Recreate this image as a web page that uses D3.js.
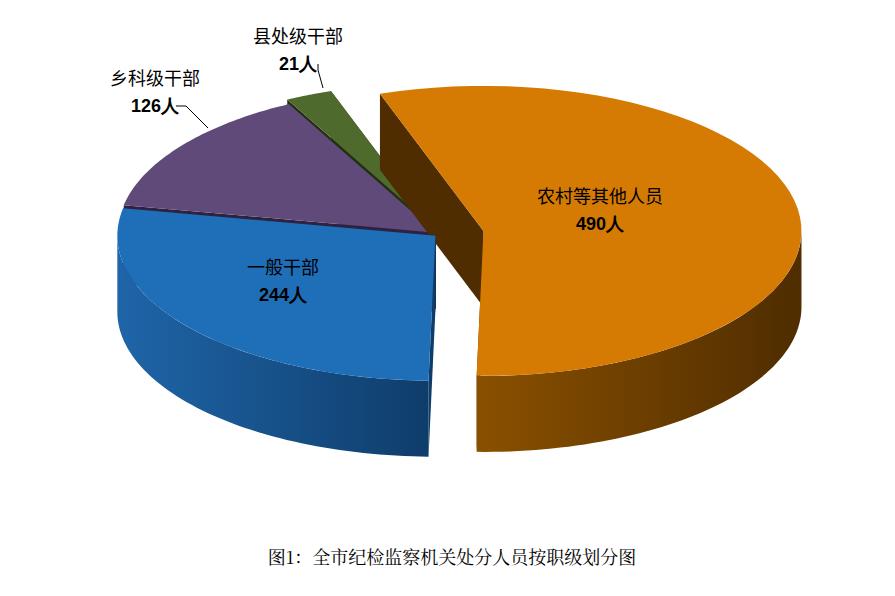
<!DOCTYPE html>
<html><head><meta charset="utf-8">
<script src="https://cdn.jsdelivr.net/npm/d3@7"></script>
<style>body{margin:0;background:#fff}</style>
</head><body>
<svg width="895" height="596"></svg>
<script>
const categories = ['农村等其他人员', '一般干部', '乡科级干部', '县处级干部'];
const values = [490, 244, 126, 21];
const valueLabels = ['490人', '244人', '126人', '21人'];
const title = '图1：全市纪检监察机关处分人员按职级划分图';

const topColors = ['#D57B04', '#1F6EB8', '#5F4A7A', '#4E6A2C'];
const wallDark = ['#4f2d00', '#0f3d6b', '#2e2240', '#22300f'];
const wallLight = ['#8a5000', '#1f65a8', '#4a3a62', '#3b5220'];
const explode = [44, 6, 5, 14];

const svg = d3.select('svg');
const cx = 440, cy = 234, rx = 318, ry = 145, depth = 76;
const deg = Math.PI / 180;

const pie = d3.pie().sort(null).startAngle(-19 * deg).endAngle(341 * deg);
const arcs = pie(values);

const defs = svg.append('defs');
arcs.forEach((a, i) => {
  const g = defs.append('linearGradient').attr('id', 'w' + i).attr('x1', 0).attr('x2', 1);
  g.append('stop').attr('offset', 0).attr('stop-color', wallLight[i]);
  g.append('stop').attr('offset', 1).attr('stop-color', wallDark[i]);
});

const pt = (o, ang, dz) => [o[0] + rx * Math.sin(ang), o[1] - ry * Math.cos(ang) + (dz || 0)];
const arcPts = (o, a0, a1, dz) => d3.range(0, 61).map(k => pt(o, a0 + (a1 - a0) * k / 60, dz));
const line = d3.line();

// back to front order by mid angle depth
const order = arcs.map((a, i) => i).sort((p, q) => {
  const m = i => -Math.cos((arcs[i].startAngle + arcs[i].endAngle) / 2);
  return m(p) - m(q);
});

order.forEach(i => {
  const a = arcs[i];
  const mid = (a.startAngle + a.endAngle) / 2;
  const o = [cx + explode[i] * Math.sin(mid), cy - explode[i] * Math.cos(mid) * ry / rx];
  const g = svg.append('g');
  // radial faces
  [a.startAngle, a.endAngle].forEach(ang => {
    const e = pt(o, ang);
    g.append('path').attr('d', line([o, e, [e[0], e[1] + depth], [o[0], o[1] + depth]]) + 'Z')
      .attr('fill', wallDark[i]);
  });
  // outer wall (front part)
  const w0 = Math.max(a.startAngle, 90 * deg), w1 = Math.min(a.endAngle, 270 * deg);
  if (w1 > w0) {
    const pts = arcPts(o, w0, w1).concat(arcPts(o, w1, w0, depth));
    g.append('path').attr('d', line(pts) + 'Z').attr('fill', `url(#w${i})`);
  }
  // top
  g.append('path').attr('d', line([o].concat(arcPts(o, a.startAngle, a.endAngle))) + 'Z')
    .attr('fill', topColors[i]);
});

// labels
const lab = [[600, 203], [283, 274], [155, 85], [298, 43]];
lab.forEach((p, i) => {
  const t = svg.append('text').attr('x', p[0]).attr('y', p[1]).attr('text-anchor', 'middle')
    .attr('font-family', 'Noto Sans CJK SC').attr('font-size', 18).attr('fill', '#000');
  t.append('tspan').attr('x', p[0]).text(categories[i]);
  t.append('tspan').attr('x', p[0]).attr('dy', 27).attr('font-weight', 'bold')
    .attr('font-family', 'Liberation Sans').text(valueLabels[i]);
});

// leader lines
svg.append('path').attr('d', line([[176, 106], [186, 106], [208, 128]]))
  .attr('fill', 'none').attr('stroke', '#000').attr('stroke-width', 1);
svg.append('path').attr('d', line([[318, 64], [318, 70], [323, 88]]))
  .attr('fill', 'none').attr('stroke', '#000').attr('stroke-width', 1);

svg.append('text').attr('x', 452).attr('y', 564).attr('text-anchor', 'middle')
  .attr('font-family', 'Noto Serif CJK SC, Noto Sans CJK SC').attr('font-size', 18).attr('fill', '#000').text(title);
</script>
</body></html>
